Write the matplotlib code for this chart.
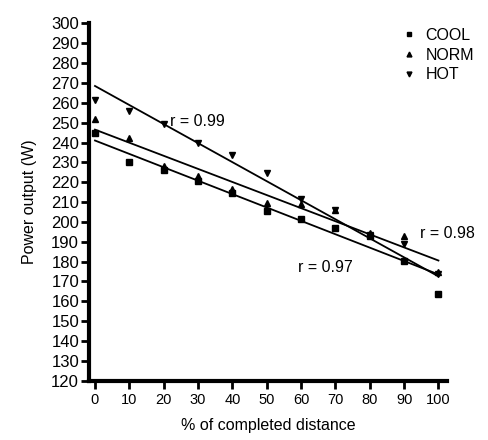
import numpy as np
import matplotlib.pyplot as plt

plt.rcParams['font.family'] = ['Liberation Sans', 'DejaVu Sans']

distance = [0, 10, 20, 30, 40, 50, 60, 70, 80, 90, 100]
cool = [245, 230, 226, 220.5, 214.5, 205.5, 201.5, 197, 193, 180.5, 163.5]
norm = [252, 242.5, 228, 223, 216.5, 209.5, 209, 206, 194.5, 193, 174.5]
hot = [261.5, 256, 249.5, 240, 233.5, 224.5, 211.5, 206, 193.5, 189, 173.5]

# regression lines (value at 0 and at 100 %)
fit_start = {'COOL': 241, 'NORM': 246.5, 'HOT': 268.5}
fit_end = {'COOL': 173.5, 'NORM': 180.5, 'HOT': 172.5}

r_labels = ['r = 0.99', 'r = 0.98', 'r = 0.97']
r_pos = [(21.8, 250.5), (94.5, 194), (59, 177)]

fig = plt.figure(figsize=(4.88, 4.40), dpi=100, facecolor='white')
ax = fig.add_axes([0.1834, 0.1352, 0.7326, 0.8114])

for name in ['COOL', 'NORM', 'HOT']:
    ax.plot([0, 100], [fit_start[name], fit_end[name]], color='black', lw=1.3, zorder=2)

ax.plot(distance, cool, 's', color='black', ms=5, ls='none', label='COOL', zorder=3)
ax.plot(distance, norm, '^', color='black', ms=5, ls='none', label='NORM', zorder=3)
ax.plot(distance, hot, 'v', color='black', ms=5, ls='none', label='HOT', zorder=3)

for txt, (x, y) in zip(r_labels, r_pos):
    ax.text(x, y, txt, fontsize=11.5, va='center', ha='left')

ax.set_xlim(-1.6, 102.5)
ax.set_ylim(120, 300)
ax.set_xticks(distance)
ax.set_yticks(np.arange(120, 301, 10))

for s in ['top', 'right']:
    ax.spines[s].set_visible(False)
for s in ['left', 'bottom']:
    ax.spines[s].set_linewidth(3)
ax.tick_params(axis='both', length=6, width=2)
ax.tick_params(axis='y', labelsize=12, pad=1.5)
ax.tick_params(axis='x', labelsize=10.5, pad=3)

ax.set_xlabel('% of completed distance', fontsize=11.5, labelpad=8)
ax.set_ylabel('Power output (W)', fontsize=11.5, labelpad=10)

leg = ax.legend(loc='upper right', bbox_to_anchor=(1.098, 1.01), frameon=False,
                fontsize=11.5, markerscale=0.7, handlelength=0.8, borderpad=0,
                handletextpad=0.6, labelspacing=0.3)

fig.savefig('out.png', dpi=100, facecolor='white')
